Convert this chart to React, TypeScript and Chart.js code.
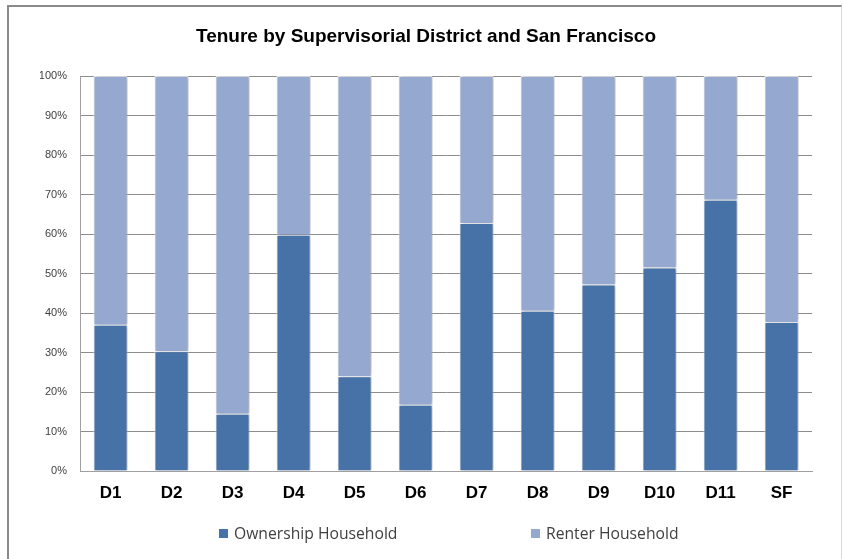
import React, { useEffect, useRef } from "react";
import { Chart, registerables } from "chart.js";

Chart.register(...registerables);

const categories = ["D1", "D2", "D3", "D4", "D5", "D6", "D7", "D8", "D9", "D10", "D11", "SF"];
const ownership = [37, 30.3, 14.5, 59.8, 24, 16.8, 62.8, 40.6, 47.2, 51.5, 68.7, 37.7];
const renter = [63, 69.7, 85.5, 40.2, 76, 83.2, 37.2, 59.4, 52.8, 48.5, 31.3, 62.3];
const seriesNames = ["Ownership Household", "Renter Household"];
const titleText = "Tenure by Supervisorial District and San Francisco";

const OWN_COLOR = "#4672A8";
const RENT_COLOR = "#95A9D0";

const shadowPlugin = {
  id: "barShadow",
  beforeDatasetDraw(chart: any) {
    const ctx = chart.ctx;
    ctx.save();
    ctx.shadowColor = "rgba(0,0,0,0.28)";
    ctx.shadowBlur = 4;
    ctx.shadowOffsetX = 2;
    ctx.shadowOffsetY = 0;
  },
  afterDatasetDraw(chart: any) {
    chart.ctx.restore();
  },
};

export default function App() {
  const ref = useRef<HTMLCanvasElement>(null);

  useEffect(() => {
    if (!ref.current) return;
    const chart = new Chart(ref.current, {
      type: "bar",
      data: {
        labels: categories,
        datasets: [
          {
            label: seriesNames[0],
            data: ownership,
            backgroundColor: OWN_COLOR,
            borderColor: "rgba(255,255,255,0.85)",
            borderWidth: 1,
            barPercentage: 0.56,
            categoryPercentage: 1,
          },
          {
            label: seriesNames[1],
            data: renter,
            backgroundColor: RENT_COLOR,
            borderColor: "rgba(255,255,255,0.85)",
            borderWidth: 1,
            barPercentage: 0.56,
            categoryPercentage: 1,
          },
        ],
      },
      plugins: [shadowPlugin],
      options: {
        animation: false,
        responsive: false,
        maintainAspectRatio: false,
        layout: { padding: { left: 40, right: 31, top: 0, bottom: 48 } },
        plugins: {
          legend: { display: false },
          tooltip: { enabled: false },
          title: {
            display: true,
            text: titleText,
            color: "#000",
            font: { family: "Liberation Sans, Arial, sans-serif", size: 19, weight: "bold" },
            padding: { top: 25.6, bottom: 27.6 },
          },
        },
        scales: {
          x: {
            stacked: true,
            grid: { display: false, drawTicks: false },
            border: { display: true, color: "#a0a0a0", width: 1 },
            ticks: {
              color: "#000",
              padding: 12,
              font: { family: "Liberation Sans, Arial, sans-serif", size: 17, weight: "bold" },
            },
            afterFit(scale: any) {
              scale.height = 40;
            },
          },
          y: {
            stacked: true,
            min: 0,
            max: 100,
            grid: { color: "#8c8c8c", lineWidth: 1, drawTicks: false },
            border: { display: true, color: "#a0a0a0", width: 1 },
            ticks: {
              stepSize: 10,
              color: "#404040",
              padding: 13,
              font: { family: "Liberation Sans, Arial, sans-serif", size: 11 },
              callback: (v: any) => v + "%",
            },
            afterFit(scale: any) {
              scale.width = 40;
            },
          },
        },
      },
    });
    return () => chart.destroy();
  }, []);

  const legendText: React.CSSProperties = {
    fontFamily: "'Open Sans', sans-serif",
    fontSize: 15.7,
    color: "#404040",
    marginLeft: 6,
    lineHeight: "18px",
  };
  const box = (c: string): React.CSSProperties => ({
    display: "inline-block",
    width: 9,
    height: 9,
    background: c,
  });

  return (
    <div style={{ position: "absolute", left: 0, top: 0, width: 843, height: 559, background: "#fff", overflow: "hidden" }}>
      <canvas ref={ref} width={843} height={559} style={{ position: "absolute", left: 0, top: 0 }} />
      <div style={{ position: "absolute", left: 219, top: 524, display: "flex", alignItems: "center" }}>
        <span style={box(OWN_COLOR)} />
        <span style={legendText}>{seriesNames[0]}</span>
      </div>
      <div style={{ position: "absolute", left: 531, top: 524, display: "flex", alignItems: "center" }}>
        <span style={box(RENT_COLOR)} />
        <span style={legendText}>{seriesNames[1]}</span>
      </div>
      <div
        style={{
          position: "absolute",
          left: 7,
          top: 5,
          width: 835,
          height: 560,
          boxSizing: "border-box",
          borderTop: "2px solid #8a8a8a",
          borderLeft: "2px solid #8a8a8a",
          borderRight: "1px solid #d8d8d8",
          pointerEvents: "none",
        }}
      />
    </div>
  );
}
